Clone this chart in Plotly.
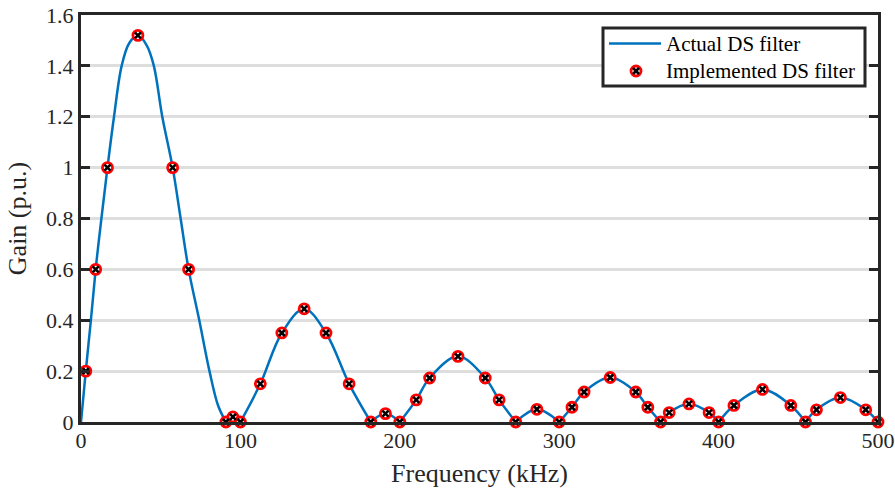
import plotly.graph_objects as go

# Continuous response of the DS filter (kHz, per-unit gain)
curve_freq = [0, 3.0, 6.2, 9.2, 12.8, 16.6, 20.7, 25.5, 30.3, 35.7, 41.3, 45.7, 51.0,
              57.5, 62.5, 67.5, 74.2, 80.6, 86.0, 90.9,
              95.3, 100,
              112.5, 126, 140, 153.7, 168.2, 181.8,
              191, 200,
              210.3, 218.7, 236.5, 253.6, 262.3, 272.7,
              286, 300,
              308, 315.6, 332, 348, 355.6, 363.6,
              369, 381.4, 394, 400,
              409.6, 427.5, 445.3, 454.5,
              461.4, 476.4, 492.3, 500]
curve_gain = [0, 0.2, 0.4, 0.6, 0.8, 1.0, 1.2, 1.4, 1.49, 1.52, 1.48, 1.4, 1.2,
              1.0, 0.8, 0.6, 0.4, 0.2, 0.065, 0,
              0.02, 0,
              0.15, 0.35, 0.445, 0.35, 0.15, 0,
              0.033, 0,
              0.087, 0.173, 0.258, 0.173, 0.087, 0,
              0.05, 0,
              0.058, 0.118, 0.175, 0.118, 0.058, 0,
              0.037, 0.071, 0.037, 0,
              0.065, 0.128, 0.065, 0,
              0.048, 0.096, 0.048, 0]

# Discrete taps of the implemented filter
impl_freq = [3.0, 9.2, 16.6, 35.7, 57.5, 67.5, 90.9, 95.3, 100, 112.5, 126, 140,
             153.7, 168.2, 181.8, 191, 200, 210.3, 218.7, 236.5, 253.6, 262.3,
             272.7, 286, 300, 308, 315.6, 332, 348, 355.6, 363.6, 369, 381.4,
             394, 400, 409.6, 427.5, 445.3, 454.5, 461.4, 476.4, 492.3, 500]
impl_gain = [0.2, 0.6, 1.0, 1.52, 1.0, 0.6, 0, 0.02, 0, 0.15, 0.35, 0.445,
             0.35, 0.15, 0, 0.033, 0, 0.087, 0.173, 0.258, 0.173, 0.087,
             0, 0.05, 0, 0.058, 0.118, 0.175, 0.118, 0.058, 0, 0.037, 0.071,
             0.037, 0, 0.065, 0.128, 0.065, 0, 0.048, 0.096, 0.048, 0]

x_ticks = [0, 100, 200, 300, 400, 500]
y_ticks = [0, 0.2, 0.4, 0.6, 0.8, 1.0, 1.2, 1.4, 1.6]
y_tick_labels = ["0", "0.2", "0.4", "0.6", "0.8", "1", "1.2", "1.4", "1.6"]
legend_labels = ["Actual DS filter", "Implemented DS filter"]

FONT = "Liberation Serif"
INK = "#262626"
BLUE = "#0072BD"
RED = "#FF0000"

# Break the curve at each null so every lobe is smoothed on its own
# and the nulls keep their sharp corners.
seg_x, seg_y = [], []
for i, (f, g) in enumerate(zip(curve_freq, curve_gain)):
    seg_x.append(f)
    seg_y.append(g)
    if g == 0 and 0 < i < len(curve_freq) - 1:
        seg_x += [None, f]
        seg_y += [None, g]

fig = go.Figure()
fig.add_trace(go.Scatter(
    x=seg_x, y=seg_y, mode="lines", name=legend_labels[0],
    line=dict(color=BLUE, width=2.5, shape="spline", smoothing=1),
    connectgaps=False,
))
fig.add_trace(go.Scatter(
    x=impl_freq, y=impl_gain, mode="markers", name=legend_labels[1],
    marker=dict(symbol="circle", size=10, color="white",
                line=dict(color=RED, width=2.8)),
    cliponaxis=False,
))
fig.add_trace(go.Scatter(
    x=impl_freq, y=impl_gain, mode="markers", name=legend_labels[1],
    marker=dict(symbol="x-thin", size=6, color="black",
                line=dict(color="black", width=2.6)),
    cliponaxis=False,
))

W, H = 895, 492
L, R, T, B = 81, 17, 15, 70
pw, ph = W - L - R, H - T - B


def px(xpix):
    return (xpix - L) / pw


def py(ypix):
    return (H - B - ypix) / ph


# Legend box drawn in paper space: frame, line sample, ringed-cross sample
box = dict(x0=603, x1=865, y0=28, y1=86)
row1, row2 = 43.5, 71
shapes = [
    dict(type="rect", xref="paper", yref="paper", layer="above",
         x0=px(box["x0"]), x1=px(box["x1"]), y0=py(box["y1"]), y1=py(box["y0"]),
         line=dict(color=INK, width=3), fillcolor="white"),
    dict(type="line", xref="paper", yref="paper", layer="above",
         x0=px(609), x1=px(661), y0=py(row1), y1=py(row1),
         line=dict(color=BLUE, width=2.5)),
    dict(type="circle", xref="paper", yref="paper", layer="above",
         x0=px(636 - 5), x1=px(636 + 5), y0=py(row2 + 5), y1=py(row2 - 5),
         line=dict(color=RED, width=2.8), fillcolor="white"),
    dict(type="line", xref="paper", yref="paper", layer="above",
         x0=px(636 - 3), x1=px(636 + 3), y0=py(row2 - 3), y1=py(row2 + 3),
         line=dict(color="black", width=2.6)),
    dict(type="line", xref="paper", yref="paper", layer="above",
         x0=px(636 - 3), x1=px(636 + 3), y0=py(row2 + 3), y1=py(row2 - 3),
         line=dict(color="black", width=2.6)),
]
annotations = [
    dict(text=legend_labels[0], xref="paper", yref="paper", x=px(664), y=py(row1),
         xanchor="left", yanchor="middle", showarrow=False,
         font=dict(family=FONT, size=21, color="black")),
    dict(text=legend_labels[1], xref="paper", yref="paper", x=px(664), y=py(row2),
         xanchor="left", yanchor="middle", showarrow=False,
         font=dict(family=FONT, size=21, color="black")),
]

fig.update_layout(
    width=W, height=H,
    margin=dict(l=L, r=R, t=T, b=B, autoexpand=False),
    paper_bgcolor="white", plot_bgcolor="white",
    font=dict(family=FONT, color=INK, size=22),
    showlegend=False,
    shapes=shapes, annotations=annotations,
    xaxis=dict(
        range=[0, 500], tickvals=x_ticks, ticks="", showgrid=False,
        zeroline=False, showline=True, linecolor=INK, linewidth=3, mirror=True,
        automargin=False, ticklabelstandoff=-3,
        tickfont=dict(size=22, color=INK),
        title=dict(text="Frequency (kHz)", font=dict(size=26, color=INK), standoff=12),
    ),
    yaxis=dict(
        range=[0, 1.6], tickvals=y_ticks, ticktext=y_tick_labels,
        ticks="inside", ticklen=9, tickwidth=3, tickcolor=INK,
        showgrid=True, gridcolor="#dedede", gridwidth=3,
        zeroline=False, showline=True, linecolor=INK, linewidth=3, mirror="ticks",
        automargin=False,
        tickfont=dict(size=22, color=INK),
        title=dict(text="Gain (p.u.)", font=dict(size=26, color=INK), standoff=12),
    ),
)

fig.write_html("out.html")
